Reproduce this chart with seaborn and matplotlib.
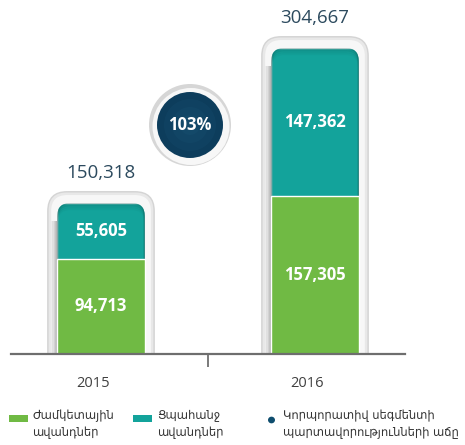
import matplotlib
matplotlib.use('Agg')
import matplotlib.pyplot as plt
import seaborn as sns
import numpy as np
import pandas as pd
from matplotlib.patches import FancyBboxPatch, Circle, Rectangle
from matplotlib.transforms import IdentityTransform, ScaledTranslation

years = ['2015', '2016']
term_deposits = [94713, 157305]
demand_deposits = [55605, 147362]
totals = [150318, 304667]
growth_label = '103%'
legend_labels = ['Ժամկետային\nավանդներ', 'Ցպահանջ\nավանդներ',
                 'Կորպորատիվ սեգմենտի\nպարտավորությունների աճը']

GREEN = '#70ba44'
TEAL = '#13a39b'
NAVY = '#0d3d5c'
W, H = 465, 445

sns.set_theme(style='white')
plt.rcParams['font.family'] = ['Open Sans', 'DejaVu Sans']

fig = plt.figure(figsize=(W / 100, H / 100), dpi=100)
ax = fig.add_axes([11 / W, (H - 354) / H, 394 / W, 354 / H])
ax.patch.set_alpha(0)

df = pd.DataFrame({'year': years, 'total': totals, 'term': term_deposits})
sns.barplot(data=df, x='year', y='total', color=TEAL, width=0.41, saturation=1, ax=ax, zorder=3)
sns.barplot(data=df, x='year', y='term', color=GREEN, width=0.41, saturation=1, ax=ax, zorder=4)
ax.set_xlim(-0.4206, 1.4206)
ax.set_ylim(0, 352500)
ax.set_xlabel('')
ax.set_ylabel('')
ax.set_yticks([])

for s in ['top', 'left', 'right']:
    ax.spines[s].set_visible(False)
ax.spines['bottom'].set_color('#6e6e6e')
ax.spines['bottom'].set_linewidth(1.6)
ax.spines['bottom'].set_zorder(10)

ax.tick_params(axis='x', which='major', bottom=False, length=0, pad=16, labelsize=10.5, labelcolor='#404040')
ax.set_xticks([0.5], minor=True)
ax.tick_params(axis='x', which='minor', bottom=True, length=9, width=1.4, color='#7a7a7a', direction='out')
for lab in ax.get_xticklabels():
    lab.set_transform(lab.get_transform() + ScaledTranslation(-6 / 72, 0, fig.dpi_scale_trans))

fig.canvas.draw()
teal_bars = ax.containers[0]
green_bars = ax.containers[1]

# frames and rounded tops
for p in teal_bars.patches:
    bb = p.get_window_extent()
    x0, x1, y1 = bb.x0, bb.x1, bb.y1
    clip = FancyBboxPatch((x0, y1 - 600), x1 - x0, 600, boxstyle='round,pad=0,rounding_size=13',
                          transform=IdentityTransform())
    p.set_clip_path(clip)
    # frame layers
    layers = [(10, 12, '#d4d4d4', 20), (8.5, 10.5, '#e8e8e8', 18), (6, 8, '#f7f7f7', 16)]
    for dx, dy, col, r in layers:
        fr = FancyBboxPatch((x0 - dx, y1 - 600), (x1 - x0) + 2 * dx, 600 + dy,
                            boxstyle=f'round,pad=0,rounding_size={r}',
                            transform=IdentityTransform(), facecolor=col, edgecolor='none', zorder=1)
        ax.add_patch(fr)
    # left shadow strip
    shades = ['#ececec', '#e0e0e0', '#d2d2d2', '#c4c4c4', '#b6b6b6']
    for k, c in enumerate(shades):
        ax.add_patch(Rectangle((x0 - 6 + k * 1.2, 0), 1.3, y1 - 18, transform=IdentityTransform(),
                               facecolor=c, edgecolor='none', zorder=2))
    # top inner shadow of teal
    for k, a in enumerate([0.28, 0.18, 0.1, 0.05]):
        sh = FancyBboxPatch((x0, y1 - 600 - 2 * k), x1 - x0, 600, boxstyle='round,pad=0,rounding_size=13',
                            transform=IdentityTransform(), facecolor='none', edgecolor='#0a4f4a',
                            linewidth=1.6, alpha=a, zorder=3.5)
        ax.add_patch(sh)
        sh.set_clip_path(clip)
        sh.set_clip_box(ax.bbox)

# labels
ax.bar_label(teal_bars, labels=[f'{v:,}' for v in totals], padding=15, fontsize=13.5,
             color='#2c4a5e', zorder=6)
ax.bar_label(green_bars, labels=[f'{v:,}' for v in term_deposits], label_type='center',
             fontsize=12, fontweight='bold', color='white', zorder=6)
for i, (t, d) in enumerate(zip(term_deposits, demand_deposits)):
    ax.text(i, t + d / 2, f'{d:,}', ha='center', va='center', fontsize=12,
            fontweight='bold', color='white', zorder=6)

# growth circle
cx, cy = 190, H - 125
ax.add_patch(Circle((cx, cy), 41, transform=IdentityTransform(), facecolor='#d6d6d6', edgecolor='none', zorder=5))
ax.add_patch(Circle((cx + 1, cy - 1.5), 38.5, transform=IdentityTransform(), facecolor='#f7f7f7', edgecolor='none', zorder=5))
ax.add_patch(Circle((cx, cy), 33, transform=IdentityTransform(), facecolor=NAVY, edgecolor='none', zorder=5))
for r, a in [(26, 0.08), (18, 0.08), (10, 0.08)]:
    ax.add_patch(Circle((cx, cy), r, transform=IdentityTransform(), facecolor='#2f7aa0', alpha=a,
                        edgecolor='none', zorder=5))
ax.text(cx, cy, growth_label, transform=IdentityTransform(), ha='center', va='center',
        fontsize=12, fontweight='bold', color='white', zorder=6)

# legend
def fy(y):
    return (H - y) / H

fig.patches.append(Rectangle((9 / W, fy(422)), 19 / W, 7 / H, transform=fig.transFigure,
                             facecolor=GREEN, edgecolor='none'))
fig.patches.append(Rectangle((133 / W, fy(422)), 19 / W, 7 / H, transform=fig.transFigure,
                             facecolor=TEAL, edgecolor='none'))
fig.patches.append(Circle((271.5 / W, fy(420)), 3.5 / W, transform=fig.transFigure,
                          facecolor='#0e4d6e', edgecolor='none'))
for x, lab in zip([32, 157, 283], legend_labels):
    fig.text(x / W, fy(424), lab, ha='left', va='center', fontsize=8.3, color='#333333',
             family=['DejaVu Sans'], linespacing=1.4)

fig.savefig('out.png', dpi=100)
